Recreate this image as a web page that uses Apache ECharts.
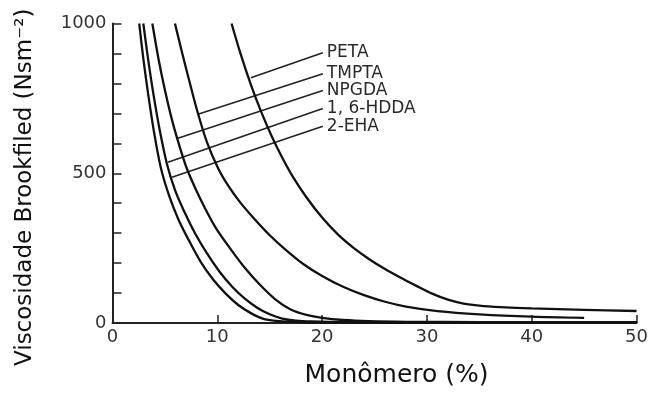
<!DOCTYPE html>
<html>
<head>
<meta charset="utf-8">
<script src="https://cdn.jsdelivr.net/npm/echarts@6/dist/echarts.min.js"></script>
<style>
html,body{margin:0;padding:0;background:#fff;}
#chart{width:651px;height:393px;}
</style>
</head>
<body>
<div id="chart"></div>
<script>
// Curve names (lowest to highest viscosity)
const seriesNames = ['2-EHA', '1, 6-HDDA', 'NPGDA', 'TMPTA', 'PETA'];

// [monomer %, viscosity]
const eha = [[2.55,1000],[2.95,880],[3.4,765],[3.95,640],[4.6,520],[5.4,425],[6.3,345],[7.3,275],[8.4,205],[9.6,145],[10.8,98],[12,60],[13.2,33],[14.4,14],[15.6,7],[17,4],[20,2],[30,1],[50,1]];
const hdda = [[2.94,1000],[3.4,880],[3.9,765],[4.5,645],[5.2,530],[6.0,440],[6.9,368],[7.9,298],[9.0,233],[10.2,172],[11.4,122],[12.6,82],[13.8,51],[15,29],[16.2,15],[17.5,8],[19,5],[22,3],[50,2]];
const npgda = [[3.8,1000],[4.4,880],[5.0,778],[5.7,675],[6.4,590],[7.1,515],[7.9,450],[8.8,385],[9.9,315],[11.2,250],[12.6,185],[14.0,130],[15.5,80],[17,45],[18.5,27],[20,17],[22,10],[24.5,6],[28,4],[35,3],[50,3]];
const tmpta = [[5.96,1000],[6.6,908],[7.3,812],[8.1,706],[9.0,605],[10.1,515],[11.1,455],[12.2,402],[13.5,349],[15.0,293],[16.5,245],[18.2,197],[20,157],[22,121],[24,93],[26,71],[28,55],[31,40],[35,29],[40,21],[45,17]];
const peta = [[11.36,1000],[12.2,901],[13.2,796],[14.2,704],[15.2,623],[16.2,552],[17.2,489],[18.5,420],[20,352],[21.5,296],[23,251],[24.5,213],[26,180],[27.5,151],[29,124],[30.5,98],[32,78],[33.5,65],[35,58],[37,53],[40,48.5],[45,44],[50,40]];
const curves = [eha, hdda, npgda, tmpta, peta];

// Leader lines from each curve to its label: [start, end]
const leaderLines = [
  [[5.67,487],[20.07,657]],
  [[5.29,537],[20.07,716]],
  [[6.24,617],[20.07,776]],
  [[8.15,697],[20.07,832]],
  [[13.2,819],[20.07,902]]
];

// Axis settings
const xTicks = [0, 10, 20, 30, 40, 50];
const yLabelValues = [0, 500, 1000];

const chart = echarts.init(document.getElementById('chart'));

const series = [];
curves.forEach((d, i) => {
  series.push({
    name: seriesNames[i],
    type: 'line',
    data: d,
    smooth: 0.3,
    showSymbol: false,
    symbol: 'none',
    lineStyle: {color: '#111', width: 2.3},
    z: 3,
    silent: true
  });
});
leaderLines.forEach((d, i) => {
  series.push({
    name: seriesNames[i],
    type: 'line',
    data: d,
    showSymbol: false,
    symbol: 'none',
    lineStyle: {color: '#222', width: 1.6},
    endLabel: {
      show: true,
      formatter: '{a}',
      distance: 4,
      color: '#2a2a2a',
      fontFamily: 'DejaVu Sans',
      fontSize: 17
    },
    z: 2,
    silent: true
  });
});

chart.setOption({
  animation: false,
  backgroundColor: '#fff',
  grid: {left: 112.5, right: 14, top: 23.5, bottom: 68},
  xAxis: {
    type: 'value',
    min: xTicks[0],
    max: xTicks[xTicks.length - 1],
    interval: 10,
    name: 'Monômero (%)',
    nameLocation: 'middle',
    nameGap: 40,
    nameTextStyle: {
      fontFamily: 'DejaVu Sans',
      fontSize: 25,
      color: '#111',
      padding: [0, 0, 0, 44]
    },
    axisLine: {show: true, onZero: false, lineStyle: {color: '#222', width: 2}},
    axisTick: {show: true, inside: true, length: 8, lineStyle: {color: '#222', width: 1.5}},
    axisLabel: {
      margin: 5,
      fontFamily: 'DejaVu Sans',
      fontSize: 18,
      color: '#333'
    },
    splitLine: {show: false}
  },
  yAxis: {
    type: 'value',
    min: 0,
    max: 1000,
    interval: 100,
    name: 'Viscosidade Brookfiled (Nsm⁻²)',
    nameLocation: 'middle',
    nameGap: 76,
    nameTextStyle: {
      fontFamily: 'DejaVu Sans',
      fontSize: 23,
      color: '#111',
      padding: [0, 28, 0, 0]
    },
    axisLine: {show: true, lineStyle: {color: '#222', width: 2}},
    axisTick: {show: true, inside: true, length: 9, lineStyle: {color: '#222', width: 1.5}},
    axisLabel: {
      margin: 6,
      fontFamily: 'DejaVu Sans',
      fontSize: 18,
      color: '#333',
      formatter: v => (yLabelValues.indexOf(v) >= 0 ? String(v) : '')
    },
    splitLine: {show: false}
  },
  series: series
});
</script>
</body>
</html>
